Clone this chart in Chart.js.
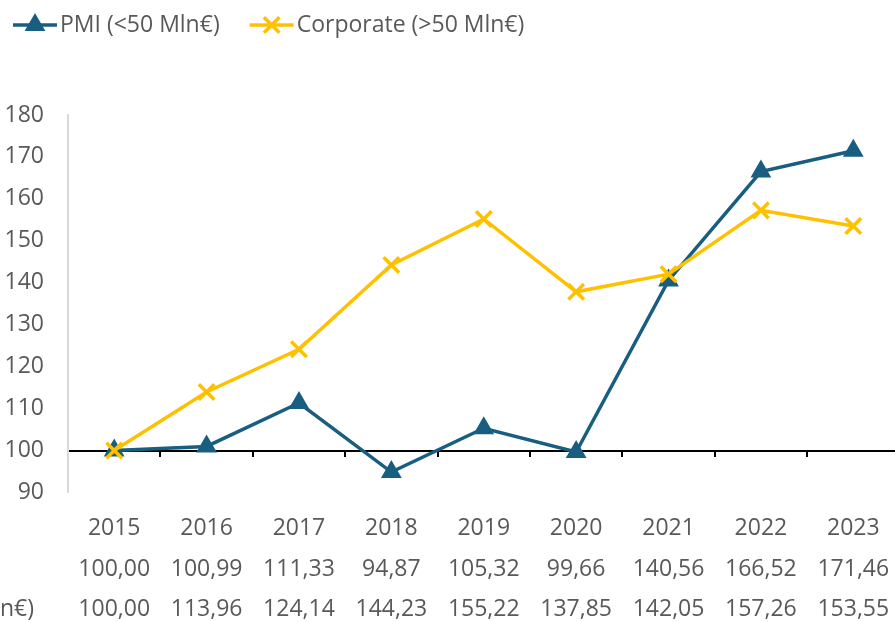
<!DOCTYPE html>
<html lang="it">
<head>
<meta charset="UTF-8">
<title>PMI vs Corporate</title>
<script src="https://cdn.jsdelivr.net/npm/chart.js"></script>
<style>
  html, body { margin: 0; padding: 0; overflow: hidden; background: #fff; }
  #wrap { width: 914px; height: 646px; }
</style>
</head>
<body>
<div id="wrap"><canvas id="chart" width="914" height="646"></canvas></div>
<script>
// data
const years = ['2015', '2016', '2017', '2018', '2019', '2020', '2021', '2022', '2023'];
const pmiLabel = 'PMI (<50 Mln€)';
const corpLabel = 'Corporate (>50 Mln€)';
const pmiValues = [100.00, 100.99, 111.33, 94.87, 105.32, 99.66, 140.56, 166.52, 171.46];
const corpValues = [100.00, 113.96, 124.14, 144.23, 155.22, 137.85, 142.05, 157.26, 153.55];
const yMin = 90;
const yMax = 180;
const yStep = 10;
const baseValue = 100;

const pmiColor = '#185E81';
const corpColor = '#FFC000';
const textColor = '#595959';
const fontFamily = '"Open Sans", "Noto Sans", sans-serif';
const fontSize = 23;
const lineHeight = 40.5 / 23;
const tickPad = 16;

const fmt = v => v.toFixed(2).replace('.', ',');
const tableLabels = years.map((y, i) => [y, fmt(pmiValues[i]), fmt(corpValues[i])]);

// legend (line + marker) and data table row names, drawn on the canvas
const legendAndRows = {
    id: 'legendAndRows',
    afterDraw(chart) {
        const ctx = chart.ctx;
        ctx.save();
        ctx.font = fontSize + 'px ' + fontFamily;
        ctx.textBaseline = 'middle';

        let x = 13;
        const y = 25;
        [0, 1].forEach(i => {
            const ds = chart.data.datasets[i];
            ctx.strokeStyle = ds.borderColor;
            ctx.fillStyle = ds.pointBackgroundColor;
            ctx.lineWidth = ds.borderWidth;
            ctx.beginPath();
            ctx.moveTo(x, y);
            ctx.lineTo(x + 44, y);
            ctx.stroke();
            ctx.lineWidth = ds.pointBorderWidth;
            Chart.helpers.drawPoint(ctx, {
                pointStyle: ds.pointStyle,
                radius: ds.pointRadius,
                borderWidth: ds.pointBorderWidth,
                rotation: 0
            }, x + 22, y);
            ctx.fillStyle = textColor;
            ctx.fillText(ds.label, x + 47, y);
            x += 47 + ctx.measureText(ds.label).width + 30;
        });

        // row names of the data table (left aligned, mostly off canvas)
        const xs = chart.scales.x;
        const lh = fontSize * lineHeight;
        const right = chart.chartArea.left - 34;
        const left = right - ctx.measureText(corpLabel).width;
        ctx.fillStyle = textColor;
        [pmiLabel, corpLabel].forEach((t, r) => {
            ctx.fillText(t, left, xs.top + tickPad + lh * (r + 1.5));
        });
        ctx.restore();
    }
};

const ctx = document.getElementById('chart').getContext('2d');
new Chart(ctx, {
    type: 'line',
    data: {
        labels: tableLabels,
        datasets: [{
            label: pmiLabel,
            data: pmiValues,
            borderColor: pmiColor,
            backgroundColor: pmiColor,
            pointBackgroundColor: pmiColor,
            pointBorderColor: pmiColor,
            borderWidth: 3.5,
            pointStyle: 'triangle',
            pointRadius: 10,
            pointBorderWidth: 2,
            tension: 0,
            order: 1
        }, {
            label: corpLabel,
            data: corpValues,
            borderColor: corpColor,
            backgroundColor: corpColor,
            pointBackgroundColor: corpColor,
            pointBorderColor: corpColor,
            borderWidth: 3.5,
            pointStyle: 'crossRot',
            pointRadius: 11,
            pointBorderWidth: 3.5,
            tension: 0,
            order: 0
        }]
    },
    options: {
        responsive: false,
        animation: false,
        layout: { padding: { top: 115, left: 5, right: 0, bottom: 0 } },
        plugins: {
            legend: { display: false },
            tooltip: { enabled: false }
        },
        scales: {
            x: {
                type: 'category',
                offset: true,
                grid: { display: false, drawTicks: false },
                border: { display: false },
                ticks: {
                    color: textColor,
                    font: { family: fontFamily, size: fontSize, lineHeight: lineHeight },
                    padding: tickPad,
                    autoSkip: false,
                    maxRotation: 0,
                    minRotation: 0
                },
                afterFit(scale) {
                    scale.paddingLeft = 0;
                    scale.paddingRight = 0;
                }
            },
            xBase: {
                type: 'category',
                axis: 'x',
                position: { y: baseValue },
                offset: true,
                grid: {
                    display: true,
                    offset: true,
                    drawOnChartArea: false,
                    drawTicks: true,
                    tickLength: 5,
                    color: '#000',
                    lineWidth: 2
                },
                border: { display: true, color: '#000', width: 2 },
                ticks: { display: false }
            },
            y: {
                min: yMin,
                max: yMax,
                grid: { display: false, drawTicks: false },
                border: { display: true, color: '#D9D9D9', width: 2 },
                ticks: {
                    stepSize: yStep,
                    color: textColor,
                    font: { family: fontFamily, size: fontSize },
                    padding: 24
                },
                afterFit(scale) {
                    scale.width = 63;
                }
            }
        }
    },
    plugins: [legendAndRows]
});
</script>
</body>
</html>
